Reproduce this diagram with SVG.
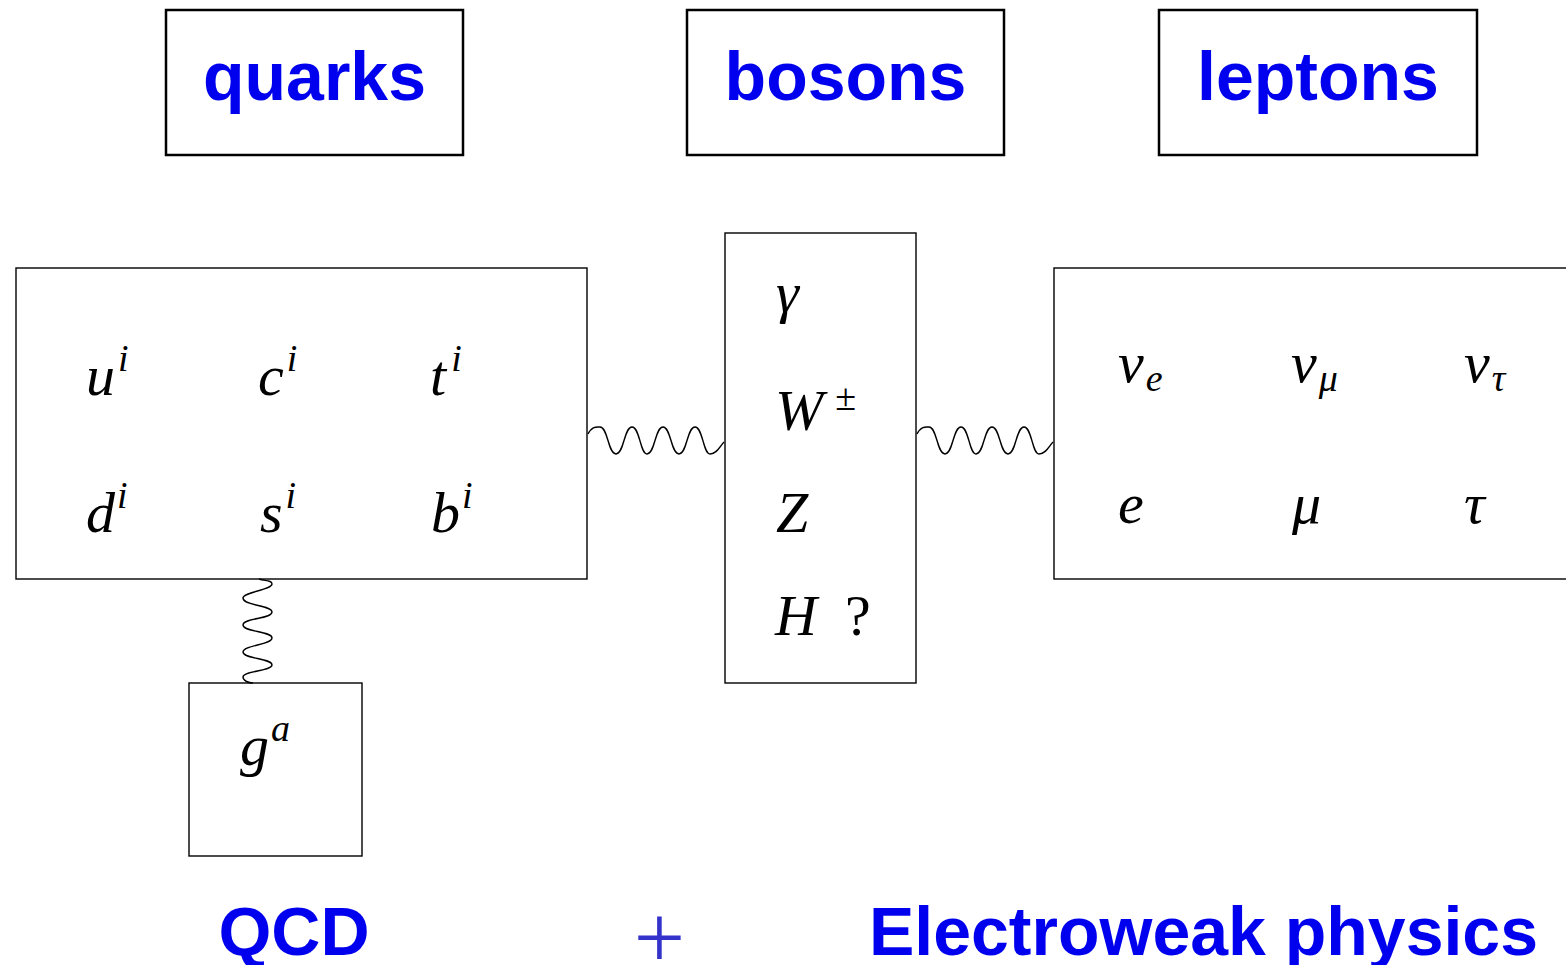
<svg xmlns="http://www.w3.org/2000/svg" width="1566" height="965" viewBox="0 0 1566 965">
<style>
.hdr{fill:none;stroke:#000;stroke-width:2.5}
.box{fill:none;stroke:#000;stroke-width:1.4}
.ttl{font-family:"Liberation Sans",Arial,sans-serif;font-weight:bold;font-size:68px;fill:#0000ee}
.m{font-family:"Liberation Serif","Times New Roman",serif;font-style:italic;font-size:58px;fill:#000}
.s{font-size:38px}
.r{font-style:normal}
.wave{fill:none;stroke:#000;stroke-width:1.4}
</style>
<rect width="1566" height="965" fill="#fff"/>
<g id="quarks-header"><rect class="hdr" x="166" y="10" width="297" height="145"/><text class="ttl" x="314.5" y="100" text-anchor="middle">quarks</text></g>
<g id="bosons-header"><rect class="hdr" x="687" y="10" width="317" height="145"/><text class="ttl" x="845.5" y="100" text-anchor="middle">bosons</text></g>
<g id="leptons-header"><rect class="hdr" x="1159" y="10" width="318" height="145"/><text class="ttl" x="1318" y="100" text-anchor="middle">leptons</text></g>
<g id="quarks">
<rect class="box" x="16" y="268" width="571" height="311"/>
<text class="m" x="86" y="395">u<tspan class="s" dx="3" dy="-24">i</tspan></text>
<text class="m" x="258" y="395">c<tspan class="s" dx="3" dy="-24">i</tspan></text>
<text class="m" x="430" y="395">t<tspan class="s" dx="5" dy="-24">i</tspan></text>
<text class="m" x="86" y="532">d<tspan class="s" dx="2" dy="-24">i</tspan></text>
<text class="m" x="260" y="532">s<tspan class="s" dx="3" dy="-24">i</tspan></text>
<text class="m" x="431" y="532">b<tspan class="s" dx="2" dy="-24">i</tspan></text>
</g>
<g id="bosons">
<rect class="box" x="725" y="233" width="191" height="450"/>
<text class="m" x="776" y="312">γ</text>
<text class="m" x="775" y="430">W<tspan class="s r" font-size="46" dx="12" dy="-20">±</tspan></text>
<text class="m" x="776" y="532">Z</text>
<text class="m" x="775" y="635">H</text>
<text class="m r" x="845" y="635">?</text>
</g>
<g id="leptons">
<rect class="box" x="1054" y="268" width="520" height="311"/>
<text class="m" x="1118" y="382">ν<tspan class="s" dx="2" dy="9">e</tspan></text>
<text class="m" x="1291" y="382">ν<tspan class="s" dx="2" dy="9">μ</tspan></text>
<text class="m" x="1464" y="382">ν<tspan class="s" dx="2" dy="9">τ</tspan></text>
<text class="m" x="1118" y="523">e</text>
<text class="m" x="1292" y="523">μ</text>
<text class="m" x="1464" y="523">τ</text>
</g>
<g id="gluons">
<rect class="box" x="189" y="683" width="173" height="173"/>
<text class="m" x="240" y="765">g<tspan class="s" dx="2" dy="-24">a</tspan></text>
</g>
<g id="connectors">
<path class="wave" d="M588,434 C592,426 596,427 600,427 C608,427 608,454 616,454 C624,454 624,427 632,427 C640,427 640,454 647,454 C655,454 655,427 663,427 C671,427 671,454 679,454 C687,454 687,427 695,427 C703,427 703,454 710,454 C717,454 720,446 724,442"/>
<path class="wave" d="M917,434 C921,426 925,427 929,427 C937,427 937,454 945,454 C953,454 953,427 961,427 C969,427 969,454 976,454 C984,454 984,427 992,427 C1000,427 1000,454 1008,454 C1016,454 1016,427 1024,427 C1032,427 1032,454 1039,454 C1046,454 1049,446 1053,442"/>
<path class="wave" d="M259,579 C265,581 272,580 272,584 C272,590 243,592 243,598 C243,606 272,605 272,612 C272,619 243,618 243,625 C243,632 272,631 272,638 C272,645 243,645 243,652 C243,659 272,658 272,665 C272,671 243,671 243,677 C243,681 249,683 253,683"/>
</g>
<text class="ttl" x="294" y="955" text-anchor="middle">QCD</text>
<text x="659.5" y="968" text-anchor="middle" font-family="Liberation Serif,serif" font-size="91" fill="#3333cc">+</text>
<text class="ttl" x="1203.5" y="955" text-anchor="middle">Electroweak physics</text>
</svg>
